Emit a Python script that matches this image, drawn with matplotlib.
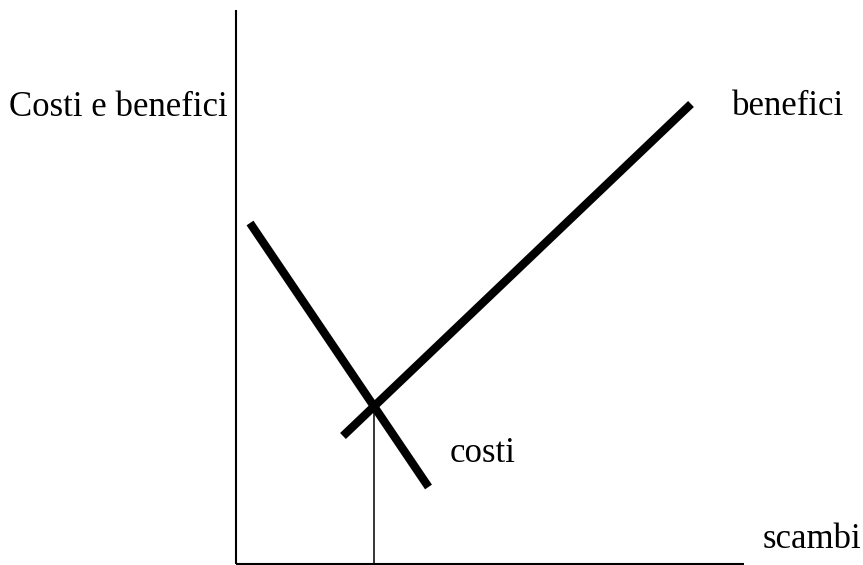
import matplotlib.pyplot as plt
import numpy as np

# Schematic: costs and benefits of trade (arbitrary units)
benefici_x = [107.5, 455.5]
benefici_y = [127.5, 459.5]
costi_x = [14.5, 193.0]
costi_y = [340.5, 76.5]

x_max = 508.5
y_max = 554.0

plt.rcParams['font.family'] = ['Liberation Serif', 'DejaVu Serif']

fig = plt.figure(figsize=(8.63, 5.65), dpi=100)
ax = fig.add_axes([235.5 / 863, 1.5 / 565, (863 - 235.5) / 863, 563.5 / 565])
ax.set_xlim(0, 863 - 235.5)
ax.set_ylim(0, 563.5)
ax.axis('off')

# axes drawn by hand
ax.plot([0, 0], [0, y_max], color='black', lw=1.5, clip_on=False, solid_capstyle='butt')
ax.plot([0, x_max], [0, 0], color='black', lw=1.5, clip_on=False, solid_capstyle='butt')

ax.plot(benefici_x, benefici_y, color='black', lw=6, solid_capstyle='butt')
ax.plot(costi_x, costi_y, color='black', lw=6, solid_capstyle='butt')

# intersection of the two lines
mb = (benefici_y[1] - benefici_y[0]) / (benefici_x[1] - benefici_x[0])
mc = (costi_y[1] - costi_y[0]) / (costi_x[1] - costi_x[0])
xi = (costi_y[0] - benefici_y[0] + mb * benefici_x[0] - mc * costi_x[0]) / (mb - mc)
yi = benefici_y[0] + mb * (xi - benefici_x[0])
ax.plot([xi, xi], [0, yi], color='black', lw=1.1)

fs = 25
ax.text(-7.5, 447.5, 'Costi e benefici', ha='right', va='baseline', fontsize=fs, clip_on=False)
ax.text(496.5, 448.5, 'benefici', ha='left', va='baseline', fontsize=fs)
ax.text(214.0, 101.5, 'costi', ha='left', va='baseline', fontsize=fs)
ax.text(527.5, 15.8, 'scambi', ha='left', va='baseline', fontsize=fs)

fig.savefig('out.png', dpi=100)
